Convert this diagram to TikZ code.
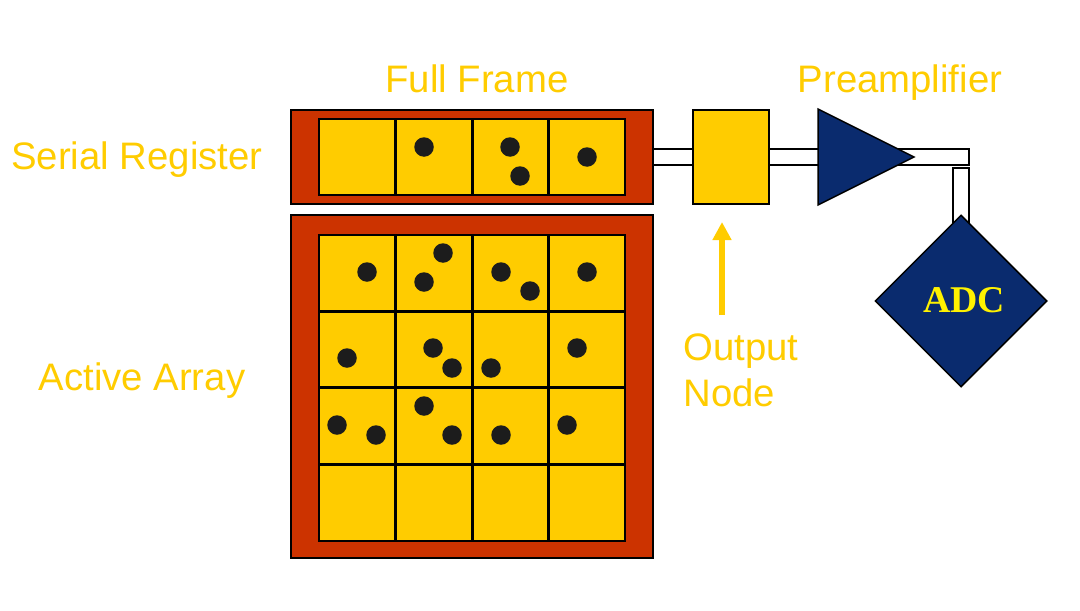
\documentclass[tikz,border=0pt]{standalone}
\usepackage{fontspec}
\setmainfont{Liberation Sans}
\newfontfamily\adcfont{Liberation Serif}
\usetikzlibrary{arrows.meta,backgrounds,shapes.geometric}

\definecolor{framered}{HTML}{CC3300}
\definecolor{cellyellow}{HTML}{FFCC00}
\definecolor{ampnavy}{HTML}{0A2B6E}
\definecolor{chargeblack}{HTML}{1C1C1C}

\tikzset{
    frame/.style = {draw = black, fill = framered, line width = 0.04cm, minimum width = 7.24cm, inner sep = 0pt},
    cell/.style = {draw = black, fill = cellyellow, line width = 0.04cm, minimum size = 1.53cm, inner sep = 0pt, outer sep = 0pt},
    gridline/.style = {black, line width = 0.06cm},
    wire/.style = {draw = black, line width = 0.04cm, double = white, double distance = 0.28cm, line cap = rect},
    label/.style = {text = cellyellow, font = \fontsize{21.8}{26}\selectfont, inner sep = 0pt}
}

\begin{document}
\begin{tikzpicture}
        \useasboundingbox (0,0) rectangle (21.6,12.2);

        % register and array frames
        \node (regframe) at (9.44,9.06) [frame, minimum height = 1.88cm] {};
        \node (arrayframe) at (9.44,4.47) [frame, minimum height = 6.86cm] {};

        \foreach \col/\x in {1/7.145,2/8.675,3/10.205,4/11.735} {
            \node (reg\col) at (\x,9.06) [cell] {};
            \foreach \row/\y in {1/6.745,2/5.215,3/3.685,4/2.155} {
                \node (cell\col\row) at (\x,\y) [cell] {};
            }
        }

        % heavier lines between the cells
        \foreach \col in {1,2,3} {
            \draw [gridline] (reg\col.north east) -- (reg\col.south east);
            \draw [gridline] (cell\col1.north east) -- (cell\col4.south east);
            \draw [gridline] (cell1\col.south west) -- (cell4\col.south east);
        }

        % charge packets
        \foreach \x/\y in {8.48/9.26,10.2/9.26,10.4/8.68,11.74/9.06,
                           7.34/6.76,8.86/7.14,8.48/6.56,10.02/6.76,10.6/6.38,11.74/6.76,
                           6.94/5.04,8.66/5.24,9.04/4.84,9.82/4.84,11.54/5.24,
                           6.74/3.7,7.52/3.5,8.48/4.08,9.04/3.5,10.02/3.5,11.34/3.7} {
            \fill [chargeblack] (\x,\y) circle (0.195);
        }

        % readout chain
        \node (outnode) at (14.62,9.06) [draw = black, fill = cellyellow, line width = 0.04cm, minimum width = 1.52cm, minimum height = 1.88cm, inner sep = 0pt] {};
        \node (amp) at (16.36,9.06) [isosceles triangle, isosceles triangle stretches, anchor = lower side, draw = black, fill = ampnavy, line width = 0.03cm, minimum width = 1.92cm, minimum height = 1.92cm, inner sep = 0pt, outer sep = 0pt] {};
        \node (adc) at (19.22,6.18) [diamond, draw = black, fill = ampnavy, line width = 0.03cm, minimum width = 3.44cm, minimum height = 3.44cm, inner sep = 0pt] {};
        \node (adclabel) at (19.28,6.2) [text = yellow, inner sep = 0pt, font = \adcfont\bfseries\fontsize{21.5}{25}\selectfont] {ADC};

        \coordinate (bend) at (19.22,9.06);
        \coordinate (adcin) at (19.22,8.68);

        \begin{scope}[on background layer]
            \draw [wire] (regframe) -- (outnode);
            \draw [wire] (outnode) -- (amp.lower side);
            \draw [wire] (amp.center) -- (bend);
            \draw [wire] (adcin) -- (adc);
        \end{scope}

        \coordinate (arrowfoot) at (14.44,5.9);
        \coordinate (arrowtip) at (14.44,7.76);
        \draw [cellyellow, line width = 0.12cm, -{Triangle[length = 0.36cm, width = 0.36cm]}] (arrowfoot) -- (arrowtip);

        \node (fulllabel) at (9.54,10.62) [label] {Full Frame};
        \node (amplabel) at (18,10.54) [label] {Preamplifier};
        \node (reglabel) at (2.74,9) [label] {Serial Register};
        \node (arraylabel) at (2.84,4.58) [label] {Active Array};
        \node (outlabel) at (13.66,4.8) [label, anchor = west, align = left] {Output\\Node};

    \end{tikzpicture}
\end{document}
